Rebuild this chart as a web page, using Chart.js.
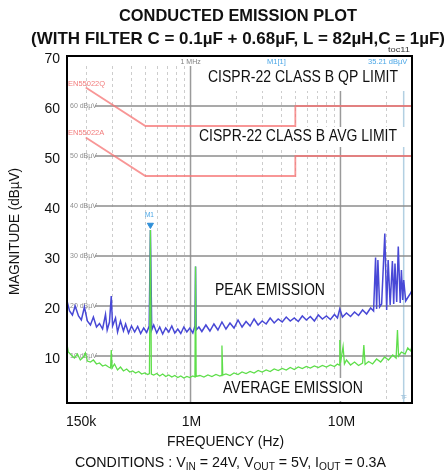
<!DOCTYPE html>
<html>
<head>
<meta charset="utf-8">
<script src="https://cdn.jsdelivr.net/npm/chart.js@4.4.1/dist/chart.umd.min.js"></script>
<style>
  html, body { margin: 0; padding: 0; background: #fff; }
  #wrap { width: 448px; height: 475px; }
</style>
</head>
<body>
<div id="wrap"><canvas id="emi" width="448" height="475"></canvas></div>
<script>
// Conducted emission plot
// frequencies in MHz, levels in dBuV

const limitFreq = [0.2, 0.5, 5, 5, 30];
const qpLimit = [63.7, 56, 56, 60, 60];
const avgLimit = [53.7, 46, 46, 50, 50];

const peakFreq = [
  0.150, 0.156, 0.163, 0.170, 0.179, 0.187, 0.196, 0.205, 0.215, 0.225,
  0.236, 0.247, 0.259, 0.271, 0.278, 0.288, 0.296, 0.302, 0.316, 0.326,
  0.341, 0.357, 0.369, 0.386, 0.404, 0.424, 0.444, 0.465, 0.487, 0.510,
  0.530, 0.540, 0.551, 0.568, 0.595, 0.623, 0.652, 0.683, 0.716, 0.750,
  0.785, 0.822, 0.861, 0.902, 0.945, 0.989, 1.036, 1.07, 1.08, 1.09,
  1.137, 1.190, 1.266, 1.347, 1.432, 1.523, 1.62, 1.723, 1.833, 1.950,
  2.074, 2.206, 2.346, 2.496, 2.655, 2.824, 3.003, 3.195, 3.397, 3.614,
  3.843, 4.088, 4.348, 4.625, 4.919, 5.232, 5.566, 5.920, 6.297, 6.698,
  7.122, 7.575, 8.058, 8.570, 9.116, 9.548, 9.9, 10.31, 10.97, 11.67,
  12.41, 13.20, 14.04, 14.94, 15.89, 16.63, 17.15, 17.42, 17.77, 18.25,
  18.82, 19.76, 20.33, 20.8, 21.45, 22.2, 22.65, 23.1, 23.72, 24.3,
  25.03, 25.5, 26.02, 26.4, 27.25, 28.54, 29.44, 30
];
const peakLevel = [
  21.0, 19.0, 18.2, 20.0, 18.0, 17.2, 19.8, 17.0, 16.2, 17.8,
  15.8, 16.5, 15.4, 18.3, 15.2, 16.8, 22.0, 16.0, 17.6, 14.8,
  17.0, 15.0, 16.4, 14.6, 16.0, 14.8, 15.9, 14.5, 15.6, 14.7,
  16.0, 35.2, 15.2, 16.2, 14.6, 15.8, 14.4, 15.6, 14.8, 16.0,
  14.6, 15.4, 14.5, 15.8, 14.8, 15.6, 14.6, 16.0, 27.9, 15.2,
  15.8, 14.9, 16.2, 15.0, 16.4, 15.2, 16.8, 15.4, 16.6, 15.6,
  17.2, 15.8, 16.9, 16.0, 17.4, 16.2, 17.0, 16.4, 17.6, 16.6,
  17.4, 16.8, 17.8, 17.0, 17.6, 16.9, 18.0, 17.2, 17.9, 17.0,
  18.2, 17.4, 18.0, 17.3, 18.3, 17.6, 19.4, 17.8, 18.6, 17.9,
  18.8, 18.1, 19.2, 18.4, 19.6, 19.0, 29.7, 19.4, 29.2, 19.8,
  20.4, 34.5, 19.2, 29.2, 20.2, 29.0, 20.4, 28.5, 20.8, 31.9,
  20.6, 27.2, 21.2, 25.2, 21.0, 22.0, 22.6, 23.2
];

const avgFreq = [
  0.150, 0.153, 0.160, 0.168, 0.176, 0.184, 0.193, 0.199, 0.205, 0.215,
  0.225, 0.236, 0.247, 0.259, 0.271, 0.284, 0.293, 0.296, 0.300, 0.311,
  0.326, 0.341, 0.357, 0.375, 0.393, 0.411, 0.430, 0.451, 0.472, 0.494,
  0.518, 0.532, 0.540, 0.548, 0.568, 0.595, 0.623, 0.652, 0.683, 0.716,
  0.750, 0.785, 0.822, 0.861, 0.902, 0.945, 0.989, 1.036, 1.07, 1.08,
  1.09, 1.155, 1.228, 1.306, 1.389, 1.477, 1.571, 1.60, 1.62, 1.64,
  1.723, 1.833, 1.950, 2.074, 2.206, 2.346, 2.496, 2.655, 2.824, 3.003,
  3.195, 3.397, 3.614, 3.843, 4.088, 4.348, 4.625, 4.919, 5.232, 5.566,
  5.920, 6.297, 6.698, 7.122, 7.575, 8.058, 8.570, 9.116, 9.548, 9.8,
  9.9, 10.0, 10.41, 10.63, 10.97, 11.67, 12.41, 13.20, 14.04, 14.32,
  14.6, 15.41, 16.38, 17.42, 18.54, 19.7, 20.9, 22.3, 23.5, 24.0,
  24.4, 25.5, 27.0, 28.1, 29.44, 30
];
const avgLevel = [
  12.4, 10.8, 10.2, 9.6, 10.4, 9.2, 9.8, 10.6, 9.0, 8.8,
  9.2, 8.4, 8.6, 8.0, 8.2, 7.8, 7.6, 11.2, 7.6, 8.4,
  7.2, 7.8, 7.0, 7.4, 6.8, 7.0, 6.6, 6.9, 6.4, 6.6,
  6.3, 6.5, 35.2, 6.4, 6.2, 6.5, 6.0, 6.4, 5.9, 6.2,
  5.8, 6.1, 5.7, 6.0, 5.6, 5.9, 5.7, 6.0, 5.8, 27.9,
  5.9, 6.1, 5.8, 6.2, 5.9, 6.3, 6.0, 6.1, 12.1, 6.2,
  6.4, 6.1, 6.6, 6.3, 6.8, 6.5, 6.9, 6.6, 7.1, 6.8,
  7.2, 6.9, 7.4, 7.1, 7.5, 7.2, 7.7, 7.3, 7.8, 7.5,
  7.9, 7.6, 8.0, 7.7, 8.1, 7.8, 8.2, 7.9, 8.4, 8.2,
  13.2, 8.6, 11.9, 8.4, 9.2, 8.2, 8.8, 8.1, 8.6, 12.2,
  8.3, 8.9, 8.4, 9.4, 8.8, 9.8, 9.2, 10.2, 9.6, 15.2,
  10.0, 10.8, 10.4, 11.6, 11.0, 12.0
];

// marker M1 on the switching fundamental
const markerFreq = [0.54];
const markerLevel = [36.2];
const markerLineFreq = 26.4;

const yTicks = [10, 20, 30, 40, 50, 60, 70];
const gridLevels = [10, 20, 30, 40, 50, 60];
const xTicks = [0.15, 1, 10];
const xTickLabels = ['150k', '1M', '10M'];
const majorGrid = [1, 10];
const minorGrid = [
  0.2, 0.3, 0.4, 0.5, 0.6, 0.7, 0.8, 0.9,
  2, 3, 4, 5, 6, 7, 8, 9, 20
];

const FONT = '"Liberation Sans", Arial, Helvetica, sans-serif';

function toPoints(xs, ys) {
  return xs.map((x, i) => ({ x: x, y: ys[i] }));
}

// draws text squeezed/stretched to a measured width
function fitText(ctx, str, cx, cy, font, width, color) {
  ctx.save();
  ctx.font = font;
  ctx.fillStyle = color || '#000';
  ctx.textAlign = 'center';
  ctx.textBaseline = 'middle';
  const w = ctx.measureText(str).width;
  ctx.translate(cx, cy);
  ctx.scale(width / w, 1);
  ctx.fillText(str, 0, 0);
  ctx.restore();
}

function smallText(ctx, str, x, y, size, color) {
  ctx.save();
  ctx.font = size + 'px ' + FONT;
  ctx.fillStyle = color;
  ctx.textAlign = 'left';
  ctx.textBaseline = 'middle';
  ctx.fillText(str, x, y);
  ctx.restore();
}

function boxedLabel(ctx, str, cx, cy, width, box) {
  ctx.save();
  ctx.fillStyle = '#fff';
  ctx.fillRect(box[0], box[1], box[2] - box[0], box[3] - box[1]);
  ctx.restore();
  fitText(ctx, str, cx, cy, '16px ' + FONT, width, '#111');
}

const plotDecor = {
  id: 'plotDecor',
  beforeDatasetsDraw(chart) {
    const ctx = chart.ctx;
    const a = chart.chartArea;
    const xs = chart.scales.x;
    const ys = chart.scales.y;
    const top = a.top + 10;

    ctx.save();
    // minor log grid, dashed
    ctx.strokeStyle = '#cdcdcd';
    ctx.lineWidth = 1;
    ctx.setLineDash([3, 3]);
    minorGrid.forEach(f => {
      const px = Math.round(xs.getPixelForValue(f)) + 0.5;
      ctx.beginPath();
      ctx.moveTo(px, top);
      ctx.lineTo(px, a.bottom);
      ctx.stroke();
    });
    ctx.setLineDash([]);
    // decades
    ctx.strokeStyle = '#9a9a9a';
    ctx.lineWidth = 1.5;
    majorGrid.forEach(f => {
      const px = xs.getPixelForValue(f);
      ctx.beginPath();
      ctx.moveTo(px, top);
      ctx.lineTo(px, a.bottom);
      ctx.stroke();
    });
    // analyser marker line
    ctx.strokeStyle = '#b3d0e2';
    ctx.lineWidth = 1.5;
    const mx = xs.getPixelForValue(markerLineFreq);
    ctx.beginPath();
    ctx.moveTo(mx, top);
    ctx.lineTo(mx, a.bottom);
    ctx.stroke();
    // level lines
    ctx.strokeStyle = '#8c8c8c';
    ctx.lineWidth = 1.6;
    gridLevels.forEach(v => {
      const py = ys.getPixelForValue(v);
      ctx.beginPath();
      ctx.moveTo(a.left + 28, py);
      ctx.lineTo(a.right, py);
      ctx.stroke();
      smallText(ctx, v + ' dB\u00b5V', a.left + 3, py, 7, '#8e8e8e');
    });
    ctx.restore();

    // analyser header texts
    smallText(ctx, '1 MHz', xs.getPixelForValue(1) - 10, a.top + 6, 7, '#808080');
    smallText(ctx, 'M1[1]', 267, a.top + 6, 7.5, '#4aa6e6');
    smallText(ctx, '35.21 dB\u00b5V', 368, a.top + 6, 7.5, '#4aa6e6');
    smallText(ctx, 'EN55022Q', a.left + 1, 84, 7.5, '#f27c7c');
    smallText(ctx, 'EN55022A', a.left + 1, 133, 7.5, '#f27c7c');

    boxedLabel(ctx, 'CISPR-22 CLASS B QP LIMIT', 303, 78, 190, [200, 66, 406, 91]);
    boxedLabel(ctx, 'CISPR-22 CLASS B AVG LIMIT', 298, 136.5, 198, [193, 127, 406, 147]);
    boxedLabel(ctx, 'PEAK EMISSION', 270, 290.5, 110, [209, 280, 331, 301]);
    boxedLabel(ctx, 'AVERAGE EMISSION', 293, 389, 140, [217, 378, 369, 401]);
  },
  afterDatasetsDraw(chart) {
    const ctx = chart.ctx;
    const a = chart.chartArea;
    const xs = chart.scales.x;
    const ys = chart.scales.y;
    ctx.save();
    ctx.strokeStyle = '#000';
    ctx.lineWidth = 2;
    ctx.strokeRect(a.left, a.top, a.right - a.left, a.bottom - a.top);
    ctx.restore();

    const mx = xs.getPixelForValue(markerFreq[0]);
    const my = ys.getPixelForValue(markerLevel[0]);
    fitText(ctx, 'M1', mx - 1, my - 10, '8px ' + FONT, 9, '#4aa6e6');
    fitText(ctx, 'TF', xs.getPixelForValue(markerLineFreq), a.bottom - 6, '6px ' + FONT, 6, '#8fb8d6');
  },
  afterDraw(chart) {
    const ctx = chart.ctx;
    const xs = chart.scales.x;

    fitText(ctx, 'CONDUCTED EMISSION PLOT', 238, 16.5, 'bold 17px ' + FONT, 238, '#111');
    fitText(ctx, '(WITH FILTER C = 0.1\u00b5F + 0.68\u00b5F, L = 82\u00b5H,C = 1\u00b5F)',
      238, 39, 'bold 17px ' + FONT, 414, '#111');
    fitText(ctx, 'toc11', 399, 50, '8px ' + FONT, 22, '#333');

    // x tick labels
    ctx.save();
    ctx.font = '14px ' + FONT;
    ctx.fillStyle = '#111';
    ctx.textBaseline = 'middle';
    xTicks.forEach((f, i) => {
      ctx.textAlign = i === 0 ? 'left' : 'center';
      const px = xs.getPixelForValue(f) + (i === 0 ? -1 : 1);
      ctx.fillText(xTickLabels[i], px, 422);
    });
    ctx.restore();

    fitText(ctx, 'FREQUENCY (Hz)', 225.5, 442, '14px ' + FONT, 117, '#111');

    // y title
    ctx.save();
    ctx.translate(15, 231.5);
    ctx.rotate(-Math.PI / 2);
    fitText(ctx, 'MAGNITUDE (dB\u00b5V)', 0, 0, '14px ' + FONT, 127, '#111');
    ctx.restore();

    // conditions line with subscripts
    const parts = [
      ['CONDITIONS : V', false], ['IN', true], [' = 24V, V', false], ['OUT', true],
      [' = 5V, I', false], ['OUT', true], [' = 0.3A', false]
    ];
    ctx.save();
    ctx.fillStyle = '#111';
    ctx.textBaseline = 'alphabetic';
    ctx.textAlign = 'left';
    let total = 0;
    parts.forEach(p => {
      ctx.font = (p[1] ? '10px ' : '14px ') + FONT;
      total += ctx.measureText(p[0]).width;
    });
    const sx = 311 / total;
    ctx.translate(75, 467);
    ctx.scale(sx, 1);
    let cx = 0;
    parts.forEach(p => {
      ctx.font = (p[1] ? '10px ' : '14px ') + FONT;
      ctx.fillText(p[0], cx, p[1] ? 3 : 0);
      cx += ctx.measureText(p[0]).width;
    });
    ctx.restore();
  }
};

new Chart(document.getElementById('emi'), {
  type: 'line',
  data: {
    datasets: [
      {
        label: 'AVERAGE EMISSION',
        data: toPoints(avgFreq, avgLevel),
        borderColor: '#5ede4a',
        borderWidth: 1.3,
        pointRadius: 0,
        tension: 0,
        order: 1
      },
      {
        label: 'PEAK EMISSION',
        data: toPoints(peakFreq, peakLevel),
        borderColor: '#4848d6',
        borderWidth: 1.5,
        pointRadius: 0,
        tension: 0,
        order: 2
      },
      {
        label: 'CISPR-22 CLASS B QP LIMIT',
        data: toPoints(limitFreq, qpLimit),
        borderColor: 'rgba(245, 115, 115, 0.75)',
        borderWidth: 1.8,
        pointRadius: 0,
        tension: 0,
        order: 3
      },
      {
        label: 'CISPR-22 CLASS B AVG LIMIT',
        data: toPoints(limitFreq, avgLimit),
        borderColor: 'rgba(245, 115, 115, 0.75)',
        borderWidth: 1.8,
        pointRadius: 0,
        tension: 0,
        order: 3
      },
      {
        label: 'M1',
        data: toPoints(markerFreq, markerLevel),
        showLine: false,
        pointStyle: 'triangle',
        rotation: 180,
        pointRadius: 3.5,
        backgroundColor: '#2f8fd8',
        borderColor: '#2f8fd8',
        order: 0
      }
    ]
  },
  options: {
    responsive: false,
    animation: false,
    layout: { padding: { top: 56, right: 36, bottom: 0, left: 0 } },
    plugins: {
      legend: { display: false },
      tooltip: { enabled: false },
      title: { display: false }
    },
    scales: {
      x: {
        type: 'logarithmic',
        min: 0.15,
        max: 30,
        grid: { display: false },
        border: { display: false },
        ticks: { display: false },
        afterFit: (scale) => { scale.height = 72; }
      },
      y: {
        min: 0.6,
        max: 70,
        grid: { display: false, drawTicks: false },
        border: { display: false },
        afterBuildTicks: (scale) => { scale.ticks = yTicks.map(v => ({ value: v })); },
        afterFit: (scale) => { scale.width = 67; },
        ticks: {
          color: '#111',
          padding: 7,
          labelOffset: 3,
          font: { family: FONT, size: 14 }
        }
      }
    }
  },
  plugins: [plotDecor]
});
</script>
</body>
</html>
